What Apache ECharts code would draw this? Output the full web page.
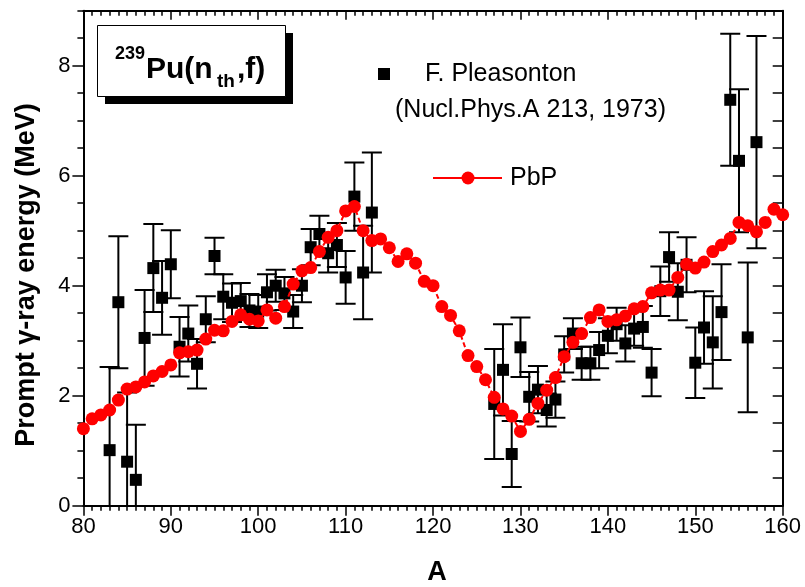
<!DOCTYPE html>
<html><head><meta charset="utf-8">
<script src="https://cdn.jsdelivr.net/npm/echarts@6/dist/echarts.min.js"></script>
<style>html,body{margin:0;padding:0;background:#fff}#c{width:805px;height:587px}</style>
</head><body><div id="c"></div>
<script>
// PbP calculation (red circles, dashed line)
const pbpA = [80,81,82,83,84,85,86,87,88,89,90,91,92,93,94,95,96,97,98,99,100,101,102,103,104,105,106,107,108,109,110,111,112,113,114,115,116,117,118,119,120,121,122,123,124,125,126,127,128,129,130,131,132,133,134,135,136,137,138,139,140,141,142,143,144,145,146,147,148,149,150,151,152,153,154,155,156,157,158,159,160];
const pbpE = [1.40,1.58,1.65,1.74,1.92,2.12,2.16,2.25,2.36,2.44,2.56,2.78,2.80,2.83,3.03,3.19,3.18,3.35,3.47,3.39,3.36,3.56,3.41,3.62,4.03,4.27,4.33,4.62,4.88,5.00,5.36,5.44,5.00,4.82,4.85,4.69,4.44,4.58,4.41,4.08,4.00,3.62,3.46,3.18,2.73,2.53,2.29,1.97,1.76,1.63,1.35,1.57,1.86,2.10,2.33,2.71,2.97,3.13,3.42,3.56,3.35,3.38,3.45,3.58,3.62,3.87,3.92,3.92,4.15,4.39,4.32,4.43,4.62,4.74,4.86,5.15,5.09,4.98,5.15,5.39,5.29];
// F. Pleasonton experimental data (black squares with error bars)
const expA = [83,84,85,86,87,88,89,90,91,92,93,94,95,96,97,98,99,100,101,102,103,104,105,106,107,108,109,110,111,112,113,127,128,129,130,131,132,133,134,135,136,137,138,139,140,141,142,143,144,145,146,147,148,149,150,151,152,153,154,155,156,157];
const expE = [1.01,3.70,0.80,0.47,3.05,4.32,3.78,4.39,2.89,3.13,2.58,3.39,4.54,3.80,3.69,3.72,3.55,3.53,3.88,4.00,3.86,3.53,4.00,4.70,4.94,4.59,4.74,4.15,5.62,4.24,5.33,1.85,2.47,0.94,2.88,1.98,2.11,1.74,1.93,2.75,3.13,2.59,2.59,2.83,3.09,3.30,2.95,3.22,3.25,2.42,3.90,4.52,3.89,4.38,2.60,3.24,2.97,3.52,7.38,6.27,3.06,6.61];
const expErr = [1.51,1.20,1.26,1.00,0.87,0.80,0.67,0.62,0.54,0.51,0.45,0.42,0.33,0.41,0.35,0.33,0.30,0.30,0.33,0.29,0.30,0.30,0.30,0.33,0.33,0.35,0.40,0.48,0.62,0.85,1.09,1.00,0.83,0.60,0.54,0.45,0.43,0.30,0.33,0.33,0.28,0.30,0.30,0.33,0.32,0.30,0.33,0.31,0.38,0.43,0.45,0.45,0.52,0.50,0.64,0.66,0.84,0.87,1.20,1.30,1.36,1.93];
// tick labels
const xTicks = [80,90,100,110,120,130,140,150,160];
const yTicks = [0,2,4,6,8];

const FONT = "'Liberation Sans', Arial, Helvetica, sans-serif";
const chart = echarts.init(document.getElementById('c'), null, {renderer:'canvas'});

const blackLine = {color:'#000', width:2};
const tickStyle = {color:'#000', width:1.5};

const option = {
  animation:false,
  backgroundColor:'#fff',
  grid:{left:83.4, right:22.3, top:10.7, bottom:81.3, containLabel:false},
  xAxis:[
    {type:'value', min:80, max:160, interval:10, position:'bottom',
     axisLine:{show:true, onZero:false, lineStyle:blackLine},
     axisTick:{show:true, inside:false, length:10, lineStyle:tickStyle},
     minorTick:{show:true, splitNumber:10, length:5, lineStyle:tickStyle},
     splitLine:{show:false},
     axisLabel:{color:'#000', fontSize:22, fontFamily:FONT, margin:10,
       formatter:v => xTicks.includes(v) ? String(v) : ''}},
    {type:'value', min:80, max:160, interval:10, position:'top',
     axisLine:{show:true, onZero:false, lineStyle:blackLine},
     axisTick:{show:true, inside:true, length:9, lineStyle:tickStyle},
     minorTick:{show:true, splitNumber:10, length:5, lineStyle:tickStyle},
     splitLine:{show:false}, axisLabel:{show:false}}
  ],
  yAxis:[
    {type:'value', min:0, max:9, interval:2, position:'left',
     axisLine:{show:true, onZero:false, lineStyle:blackLine},
     axisTick:{show:true, inside:false, length:11, lineStyle:tickStyle},
     splitLine:{show:false},
     axisLabel:{color:'#000', fontSize:22, fontFamily:FONT, margin:13, showMaxLabel:false,
       formatter:v => yTicks.includes(v) ? String(v) : ''}},
    {type:'value', min:0, max:9, interval:0.5, position:'left',
     axisLine:{show:false},
     axisTick:{show:true, inside:false, length:6, lineStyle:tickStyle},
     splitLine:{show:false}, axisLabel:{show:false}},
    {type:'value', min:0, max:9, interval:0.5, position:'right',
     axisLine:{show:true, onZero:false, lineStyle:blackLine},
     axisTick:{show:true, inside:true, length:10, lineStyle:tickStyle},
     splitLine:{show:false}, axisLabel:{show:false}}
  ],
  series:[
    {type:'custom', name:'errbars', xAxisIndex:0, yAxisIndex:0, z:2, clip:true,
     data: expA.map((a,i)=>[a, expE[i], expErr[i]]),
     renderItem:(params, api)=>{
       const x = api.value(0), y = api.value(1), e = api.value(2);
       const top = api.coord([x, y+e]);
       const bot = api.coord([x, y-e]);
       const hw = 10;
       const st = {stroke:'#000', lineWidth:2};
       return {type:'group', children:[
         {type:'line', shape:{x1:top[0], y1:top[1], x2:bot[0], y2:bot[1]}, style:st},
         {type:'line', shape:{x1:top[0]-hw, y1:top[1], x2:top[0]+hw, y2:top[1]}, style:st},
         {type:'line', shape:{x1:bot[0]-hw, y1:bot[1], x2:bot[0]+hw, y2:bot[1]}, style:st}
       ]};
     }},
    {type:'scatter', name:'F. Pleasonton', xAxisIndex:0, yAxisIndex:0, z:3,
     symbol:'rect', symbolSize:12, itemStyle:{color:'#000', opacity:1},
     data: expA.map((a,i)=>[a, expE[i]])},
    {type:'line', name:'PbP', xAxisIndex:0, yAxisIndex:0, z:4,
     symbol:'circle', symbolSize:13, showAllSymbol:true,
     itemStyle:{color:'#ff0000', borderWidth:0, opacity:1},
     lineStyle:{color:'#ff0000', width:2, type:[5,3]},
     data: pbpA.map((a,i)=>[a, pbpE[i]])}
  ],
  graphic:[
    {type:'text', x:27, y:275, rotation:Math.PI/2, z:10,
     style:{text:'Prompt γ-ray energy (MeV)', font:'bold 27px '+FONT, fill:'#000', textAlign:'center', textVerticalAlign:'middle'}},
    {type:'text', x:437, y:573, z:10,
     style:{text:'A', font:'bold 27px '+FONT, fill:'#000', textAlign:'center', textVerticalAlign:'middle'}},
    // title box
    {type:'rect', z:10, shape:{x:105, y:33, width:188, height:71}, style:{fill:'#000'}},
    {type:'rect', z:11, shape:{x:97.5, y:25.5, width:188, height:71}, style:{fill:'#fff', stroke:'#000', lineWidth:1}},
    {type:'text', z:12, x:115, y:54, style:{text:'239', font:'bold 18px '+FONT, fill:'#000', textAlign:'left', textVerticalAlign:'middle'}},
    {type:'text', z:12, x:146, y:70, style:{text:'Pu(n', font:'bold 30px '+FONT, fill:'#000', textAlign:'left', textVerticalAlign:'middle'}},
    {type:'text', z:12, x:217, y:82, style:{text:'th', font:'bold 19px '+FONT, fill:'#000', textAlign:'left', textVerticalAlign:'middle'}},
    {type:'text', z:12, x:237, y:70, style:{text:',f)', font:'bold 30px '+FONT, fill:'#000', textAlign:'left', textVerticalAlign:'middle'}},
    // legend
    {type:'rect', z:10, shape:{x:378, y:68, width:12, height:12}, style:{fill:'#000'}},
    {type:'text', z:10, x:425, y:74, style:{text:'F. Pleasonton', font:'25px '+FONT, fill:'#000', textAlign:'left', textVerticalAlign:'middle'}},
    {type:'text', z:10, x:395, y:110, style:{text:'(Nucl.Phys.A 213, 1973)', font:'25px '+FONT, fill:'#000', textAlign:'left', textVerticalAlign:'middle'}},
    {type:'line', z:10, shape:{x1:433, y1:178, x2:502, y2:178}, style:{stroke:'#ff0000', lineWidth:2}},
    {type:'circle', z:11, shape:{cx:468, cy:178, r:6.5}, style:{fill:'#ff0000'}},
    {type:'text', z:10, x:510, y:178, style:{text:'PbP', font:'25px '+FONT, fill:'#000', textAlign:'left', textVerticalAlign:'middle'}}
  ]
};
chart.setOption(option);
</script>
</body></html>
